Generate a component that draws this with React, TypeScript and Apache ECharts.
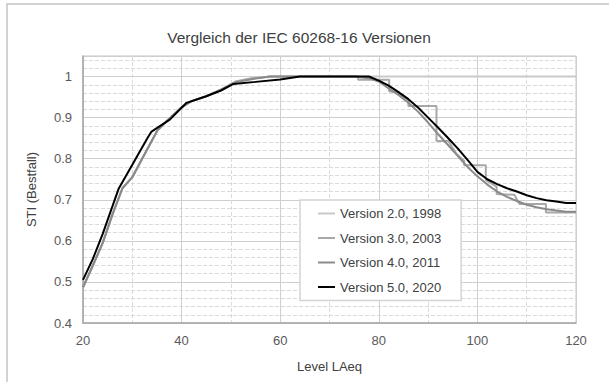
import React, { useEffect, useRef } from "react";
import * as echarts from "echarts";

const TITLE = "Vergleich der IEC 60268-16 Versionen";
const X_NAME = "Level LAeq";
const Y_NAME = "STI (Bestfall)";
const SERIES_NAMES = ["Version 2.0, 1998", "Version 3.0, 2003", "Version 4.0, 2011", "Version 5.0, 2020"];

const v2_1998: [number, number][] = [
  [20, 0.487], [22, 0.54], [24, 0.595], [26, 0.665], [28, 0.728], [30, 0.755], [32, 0.8],
  [35, 0.867], [37, 0.892], [40, 0.925], [42, 0.94], [45, 0.952], [48, 0.968], [51, 0.988],
  [54, 0.995], [58, 1.0], [80, 1.0], [100, 1.0], [120, 1.0],
];

const v3_2003: [number, number][] = [
  [20, 0.487], [22, 0.54], [24, 0.595], [26, 0.665], [28, 0.728], [30, 0.755], [32, 0.8],
  [35, 0.867], [37, 0.892], [40, 0.925], [42, 0.94], [45, 0.952], [48, 0.968], [51, 0.988],
  [54, 0.995], [58, 1.0], [70, 1.0], [75.8, 1.0], [75.8, 0.992], [82.1, 0.992], [82.1, 0.964],
  [83.3, 0.962], [86, 0.944], [86, 0.928], [91.7, 0.928], [91.7, 0.843], [94.1, 0.843],
  [95.8, 0.811], [97.3, 0.795], [97.3, 0.784], [101.7, 0.784], [101.7, 0.748], [103.9, 0.732],
  [103.9, 0.714], [107.5, 0.712], [108.5, 0.69], [113.9, 0.69], [113.9, 0.669], [120, 0.669],
];

const v4_2011: [number, number][] = [
  [20, 0.487], [22, 0.54], [24, 0.595], [26, 0.665], [28, 0.728], [30, 0.755], [32, 0.8],
  [35, 0.867], [37, 0.892], [40, 0.925], [42, 0.94], [45, 0.952], [48, 0.968], [51, 0.986],
  [55, 0.995], [58, 1.0], [65, 1.0], [75, 1.0], [78, 0.996], [80, 0.988], [82, 0.971],
  [84, 0.955], [86, 0.936], [88, 0.914], [90, 0.888], [92, 0.86], [94, 0.834], [96, 0.807],
  [98, 0.78], [100, 0.757], [102, 0.737], [104, 0.72], [106, 0.707], [108, 0.697],
  [110, 0.688], [112, 0.682], [114, 0.677], [116, 0.674], [118, 0.671], [120, 0.671],
];

const v5_2020: [number, number][] = [
  [20, 0.505], [22, 0.556], [24, 0.617], [26, 0.685], [27.2, 0.726], [30, 0.785],
  [33.2, 0.853], [33.9, 0.866], [37.6, 0.895], [41, 0.936], [45, 0.952], [48, 0.966],
  [50.5, 0.982], [55, 0.987], [60, 0.993], [64, 1.0], [70, 1.0], [75, 1.0], [78, 1.0],
  [80, 0.99], [82, 0.978], [84, 0.962], [86, 0.945], [88, 0.924], [90, 0.9], [92, 0.876],
  [94, 0.851], [96, 0.825], [98, 0.797], [100, 0.768], [102, 0.75], [104, 0.738],
  [106, 0.728], [108, 0.72], [110, 0.711], [112, 0.704], [114, 0.699], [116, 0.696],
  [118, 0.692], [120, 0.692],
];

const SERIES_DATA = [v2_1998, v3_2003, v4_2011, v5_2020];
const SERIES_COLORS = ["#c9c9c9", "#a8a8a8", "#8a8a8a", "#000000"];
const SERIES_WIDTHS = [2, 2, 2, 2];

const FONT = "'Liberation Sans', Arial, sans-serif";

export default function App() {
  const ref = useRef<HTMLDivElement>(null);
  useEffect(() => {
    if (!ref.current) return;
    const chart = echarts.init(ref.current, null, { renderer: "svg" });
    chart.setOption({
      animation: false,
      backgroundColor: "#ffffff",
      textStyle: { fontFamily: FONT },
      title: {
        text: TITLE,
        left: 294,
        textAlign: "center",
        top: 24,
        textStyle: { fontFamily: FONT, fontSize: 15.5, fontWeight: "normal", color: "#404040" },
      },
      graphic: [
        {
          type: "rect",
          shape: { x: 7, y: 4, width: 800, height: 600 },
          style: { fill: "none", stroke: "#c4c4c4", lineWidth: 1.5 },
          silent: true,
          z: -1,
        },
      ],
      grid: {
        left: 83,
        top: 56,
        right: 33,
        bottom: 59,
        show: true,
        borderColor: "#c4c4c4",
        borderWidth: 1,
      },
      legend: {
        orient: "vertical",
        left: 300,
        top: 200,
        backgroundColor: "#ffffff",
        borderColor: "#d4d4d4",
        borderWidth: 1.5,
        padding: [6, 20, 6, 18],
        icon: "rect",
        itemWidth: 17,
        itemHeight: 2,
        itemGap: 9.5,
        data: SERIES_NAMES,
        textStyle: { fontFamily: FONT, fontSize: 13, color: "#404040", lineHeight: 15 },
      },
      xAxis: {
        type: "value",
        min: 20,
        max: 120,
        interval: 20,
        name: X_NAME,
        nameLocation: "middle",
        nameGap: 37,
        nameTextStyle: { fontFamily: FONT, fontSize: 13, color: "#404040" },
        axisLine: { show: true, lineStyle: { color: "#a6a6a6", width: 1.5 } },
        axisTick: { show: false },
        axisLabel: { fontFamily: FONT, fontSize: 13, color: "#595959", margin: 11 },
        splitLine: { show: true, lineStyle: { color: "#cfcfcf", width: 1 } },
        minorTick: { show: false, splitNumber: 2 },
        minorSplitLine: { show: true, lineStyle: { color: "#dadada", width: 1, type: [4, 2] } },
      },
      yAxis: {
        type: "value",
        min: 0.4,
        max: 1.05,
        interval: 0.1,
        name: Y_NAME,
        nameLocation: "middle",
        nameGap: 45,
        nameRotate: 90,
        nameTextStyle: { fontFamily: FONT, fontSize: 13, color: "#404040" },
        axisLine: { show: true, lineStyle: { color: "#a6a6a6", width: 1.5 } },
        axisTick: { show: false },
        axisLabel: {
          fontFamily: FONT,
          fontSize: 13,
          color: "#595959",
          margin: 11,
          showMaxLabel: false,
          formatter: (v: number) => String(Math.round(v * 10) / 10),
        },
        splitLine: { show: true, lineStyle: { color: "#cfcfcf", width: 1 } },
        minorTick: { show: false, splitNumber: 5 },
        minorSplitLine: { show: true, lineStyle: { color: "#dadada", width: 1, type: [4, 2] } },
      },
      series: SERIES_NAMES.map((name, i) => ({
        name,
        type: "line",
        data: SERIES_DATA[i],
        symbol: "none",
        smooth: false,
        color: SERIES_COLORS[i],
        lineStyle: { color: SERIES_COLORS[i], width: SERIES_WIDTHS[i] },
        z: 2 + i,
      })),
    });
    return () => chart.dispose();
  }, []);
  return (
    <div
      ref={ref}
      style={{ position: "fixed", left: 0, top: 0, width: 609, height: 382 }}
    />
  );
}
